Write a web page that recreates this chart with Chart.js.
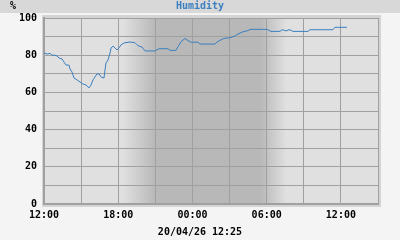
<!DOCTYPE html>
<html>
<head>
<meta charset="utf-8">
<script src="https://cdn.jsdelivr.net/npm/chart.js@4"></script>
<style>
    body { margin: 0; background: #f4f4f4; }
    canvas { display: block; }
</style>
</head>
<body>
<canvas id="myChart" width="400" height="240"></canvas>
<script>
// hours after 12:00 on the first day
let hours = [0, 0.24, 0.49, 0.65, 0.89, 1.05, 1.21, 1.46, 1.62, 1.78, 2.02, 2.10, 2.26, 2.43, 2.67, 2.91,
    3.15, 3.40, 3.64, 3.80, 3.96, 4.12, 4.28, 4.45, 4.61, 4.85, 4.93, 5.01, 5.17, 5.34, 5.42, 5.58,
    5.74, 5.90, 6.06, 6.22, 6.47, 6.95, 7.36, 7.60, 7.92, 8.17, 8.97, 9.30, 10.02, 10.19, 10.67, 10.83,
    11.08, 11.40, 11.56, 11.88, 12.45, 12.61, 13.82, 13.99, 14.23, 14.55, 15.04, 15.44, 15.68, 16.09,
    16.49, 16.65, 18.03, 18.35, 19.08, 19.24, 19.48, 19.64, 19.72, 19.97, 20.13, 21.34, 21.50, 23.36,
    23.52, 24.49]
let humidity = [81.2, 80.6, 81, 80, 80, 79.6, 78.5, 78, 76.3, 74.7, 74.7, 72.6, 71, 67.7, 66.7, 65.6,
    64.5, 64, 62.4, 64, 66.7, 68.3, 69.9, 70, 68.3, 67.7, 72, 75.8, 77.4, 81.2, 83.9, 84.9,
    83.9, 82.8, 83.9, 85.5, 86.6, 87.1, 86.7, 85.1, 84.4, 82.3, 82.3, 83.5, 83.5, 82.6, 82.6, 84.6,
    87.3, 89, 88.2, 87, 87, 86, 86, 87.1, 88, 89, 89.4, 90.3, 91.4, 92.6,
    93.2, 93.9, 93.9, 92.8, 92.8, 93.7, 93.3, 93.0, 93.7, 93.4, 92.8, 92.8, 93.7, 93.7,
    95, 95]

let xTickHours = [0, 6, 12, 18, 24]
let xTickLabels = ['12:00', '18:00', '00:00', '06:00', '12:00']
let yTickLabels = ['0', '20', '40', '60', '80', '100']

// night shading: fade in, full dark, fade out (hours)
let nightEdges = [6.4, 9.0, 17.5, 19.6]

let titleText = 'Humidity'
let unitText = '%'
let stampText = '20/04/26 12:25'

const FONT = 'bold 10px "DejaVu Sans Mono"'

let backdrop = {
    id: 'backdrop',
    beforeDraw(chart) {
        const ctx = chart.ctx
        const a = chart.chartArea
        const x = chart.scales.x
        ctx.save()
        ctx.fillStyle = '#f4f4f4'
        ctx.fillRect(0, 0, 400, 240)
        ctx.fillStyle = '#d8d8d8'
        ctx.fillRect(0, 0, 400, 13)
        ctx.fillStyle = '#d4d4d4'
        ctx.fillRect(a.left - 2, a.top - 3, a.right - a.left + 5, a.bottom - a.top + 6)
        ctx.fillStyle = '#e0e0e0'
        ctx.fillRect(a.left, a.top, a.right - a.left, a.bottom - a.top)

        let x0 = x.getPixelForValue(nightEdges[0])
        let x1 = x.getPixelForValue(nightEdges[1])
        let x2 = x.getPixelForValue(nightEdges[2])
        let x3 = x.getPixelForValue(nightEdges[3])
        let g = ctx.createLinearGradient(x0, 0, x3, 0)
        g.addColorStop(0, 'rgba(184,184,184,0)')
        g.addColorStop((x1 - x0) / (x3 - x0), 'rgba(184,184,184,1)')
        g.addColorStop((x2 - x0) / (x3 - x0), 'rgba(184,184,184,1)')
        g.addColorStop(1, 'rgba(184,184,184,0)')
        ctx.fillStyle = g
        ctx.fillRect(x0, a.top, x3 - x0, a.bottom - a.top)

        ctx.font = FONT
        ctx.textBaseline = 'alphabetic'
        ctx.fillStyle = '#3c80c0'
        ctx.textAlign = 'center'
        ctx.fillText(titleText, 200, 9)
        ctx.fillStyle = '#000'
        ctx.textAlign = 'left'
        ctx.fillText(unitText, 10, 9)
        ctx.textAlign = 'center'
        ctx.fillText(stampText, 200, 235)
        ctx.restore()
    }
}

let myChart = new Chart(document.getElementById('myChart'), {
    type: 'line',
    data: {
        datasets: [{
            data: hours.map((h, i) => ({ x: h, y: humidity[i] })),
            borderColor: 'rgb(60, 128, 192)',
            borderWidth: 1,
            pointRadius: 0,
            tension: 0
        }]
    },
    options: {
        responsive: false,
        animation: false,
        layout: { padding: { left: 0, top: 18, right: 22, bottom: 0 } },
        plugins: { legend: { display: false }, tooltip: { enabled: false } },
        scales: {
            x: {
                type: 'linear',
                min: 0,
                max: 27,
                afterFit: (s) => { s.height = 36 },
                ticks: {
                    stepSize: 3,
                    padding: 5,
                    maxRotation: 0,
                    autoSkip: false,
                    color: '#000',
                    font: { family: 'DejaVu Sans Mono', size: 10, weight: 'bold' },
                    callback: (v) => {
                        let i = xTickHours.indexOf(v)
                        return i >= 0 ? xTickLabels[i] : ''
                    }
                },
                grid: { color: '#a0a0a0', drawTicks: false },
                border: { color: '#a0a0a0', width: 2 }
            },
            y: {
                min: 0,
                max: 100,
                afterFit: (s) => { s.width = 44 },
                ticks: {
                    stepSize: 10,
                    padding: 7,
                    color: '#000',
                    font: { family: 'DejaVu Sans Mono', size: 10, weight: 'bold' },
                    callback: (v) => {
                        let i = yTickLabels.indexOf(String(v))
                        return i >= 0 ? yTickLabels[i] : ''
                    }
                },
                grid: { color: '#a0a0a0', drawTicks: false },
                border: { color: '#a0a0a0', width: 2 }
            }
        }
    },
    plugins: [backdrop]
})
</script>
</body>
</html>
